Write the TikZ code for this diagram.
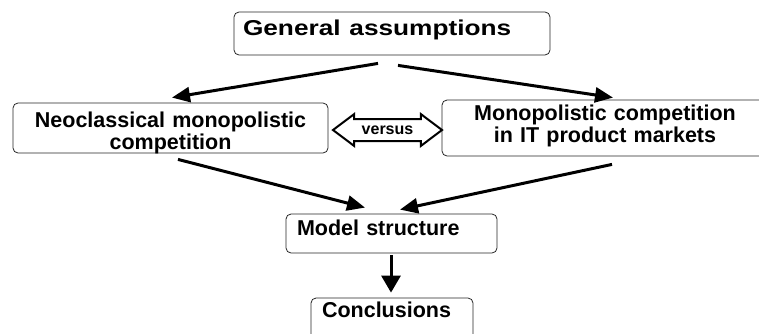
\documentclass[tikz,border=0pt]{standalone}
\usepackage{fontspec}
\setmainfont{Liberation Sans}
\usetikzlibrary{arrows.meta}
\usetikzlibrary{shapes.arrows}

\begin{document}
\begin{tikzpicture}[x=1pt,y=-1pt,
    box/.style={shape=rectangle,draw=black!85,line width=0.8pt,rounded corners=5pt,
      font=\bfseries\fontsize{21.5}{22}\selectfont,inner ysep=3pt},
    arr/.style={-{Triangle[length=18pt,width=15pt]},line width=3pt},
    vs/.style={shape=double arrow,draw=black,line width=2pt,double arrow tip angle=74,
      double arrow head extend=5pt,minimum height=109pt,inner xsep=0pt,inner ysep=5.85pt,
      text height=8.3pt,text depth=0pt,font=\bfseries\fontsize{16}{16}\selectfont}]
    \useasboundingbox (0,0) rectangle (759,333);
    \node[box,text width=298pt,inner xsep=9pt,align=left,text height=20pt,text depth=17pt] (general) at (392,33.5) {\scalebox{1.22}[1]{General assumptions}};
    \node[box,text width=309pt,inner xsep=3pt,align=center,text height=21pt,text depth=23pt] (neo) at (170.5,128) {Neoclassical monopolistic\\competition};
    \node[box,text width=320pt,inner xsep=3pt,align=center,text height=17pt,text depth=33pt] (mono) at (605,128) {Monopolistic competition\\in IT product markets};
    \node[box,text width=189pt,inner xsep=11pt,align=left,text height=18pt,text depth=15pt] (model) at (391.5,233.5) {Model structure};
    \node[box,text width=140pt,inner xsep=11pt,align=left,text height=16pt,text depth=20pt] (concl) at (392,319) {Conclusions};
    \node[vs] (versus) at (387.5,130) {versus};
    \path [arr] ([shift={(-14pt,-8pt)}]general.south) edge ([shift={(1.5pt,5pt)}]neo.north);
    \path [arr] ([shift={(6pt,-10pt)}]general.south) edge ([shift={(8pt,2pt)}]mono.north);
    \path [arr] ([shift={(7.5pt,-6pt)}]neo.south) edge ([shift={(-26.5pt,6pt)}]model.north);
    \path [arr] ([shift={(7pt,-8pt)}]mono.south) edge ([shift={(8.5pt,4pt)}]model.north);
    \path [arr,-{Triangle[length=17pt,width=19pt]}] ([shift={(-0.5pt,-2pt)}]model.south) edge ([shift={(-1pt,5pt)}]concl.north);
\end{tikzpicture}
\end{document}
